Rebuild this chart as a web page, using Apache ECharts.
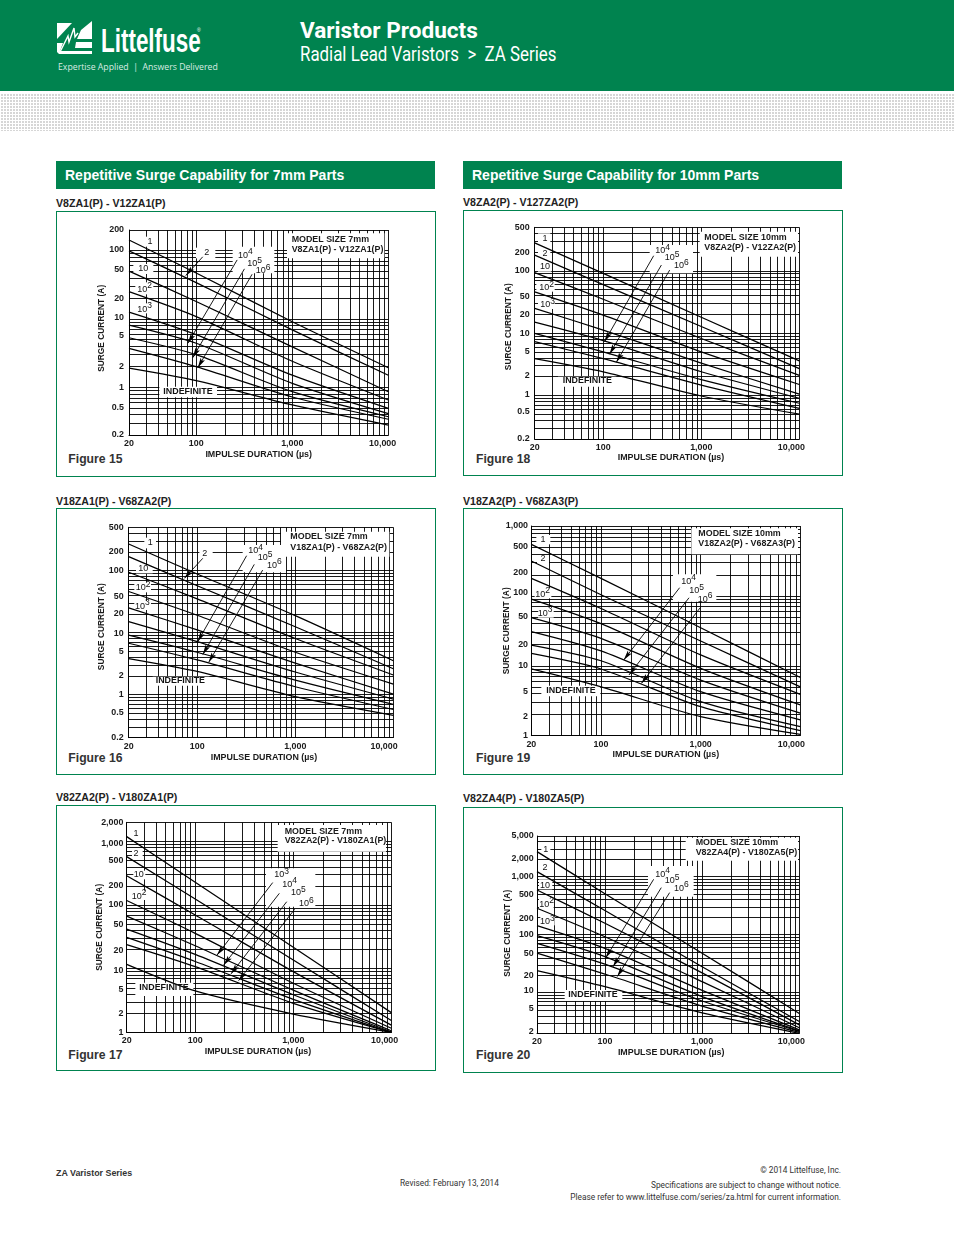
<!DOCTYPE html>
<html><head><meta charset="utf-8"><title>ZA Series Repetitive Surge Capability</title>
<script src="https://cdn.jsdelivr.net/npm/echarts@6/dist/echarts.min.js"></script>
<style>
html,body{margin:0;padding:0;background:#fff;width:954px;height:1235px;overflow:hidden}
body{position:relative;font-family:"Liberation Sans",Arial,sans-serif;color:#222}
.a{position:absolute;white-space:nowrap}
#hdr{left:0;top:0;width:954px;height:91px;background:#00834f}
#dots{left:0;top:93px;width:954px;height:38px;background-color:#d6d6d6;background-image:linear-gradient(to right,#fff 1px,transparent 1px),linear-gradient(to bottom,#fff 1px,transparent 1px);background-size:3px 3px}
.bar{height:28px;width:379px;background:#00834f;color:#fff;font-weight:bold;font-size:14px;line-height:29px;text-indent:9px;top:161px}
.ttl{font-weight:bold;font-size:10.6px;color:#222}
.panel{border:1px solid #00834f;box-sizing:border-box;width:380px}
.figc{font-weight:bold;font-size:12.2px;color:#333}
.foot{font-family:"Roboto";font-size:8.3px;color:#333}
#chart{position:absolute;left:0;top:0;width:954px;height:1235px}
</style></head><body>
<div class="a" id="hdr"></div><div class="a" id="dots"></div>
<svg class="a" style="left:57px;top:21px" width="36" height="34" viewBox="0 0 36 34">
<path fill="#fff" d="M0 2H15L0 18ZM35 0V18H20L24 9ZM0 22H6L3 30H35V33H2L0 31ZM19 21H35V27H18Z"/>
<path fill="none" stroke="#fff" stroke-width="1.4" d="M3 31L11 15L12 21L17 7L18 16L21 12"/></svg>
<div class="a" style="left:101px;top:22px;font:bold 33px 'Liberation Sans';color:#fff;transform-origin:0 0;transform:scaleX(.68)">Littelfuse</div>
<div class="a" style="left:197px;top:27px;font:5px 'Liberation Sans';color:#fff">®</div>
<div class="a" style="left:58px;top:60px;font:9.4px 'Open Sans';color:#d9ece3;transform-origin:0 0;transform:scaleX(.93)">Expertise Applied&nbsp; |&nbsp; Answers Delivered</div>
<div class="a" style="left:300px;top:17px;font:bold 22.6px Roboto;color:#fff">Varistor Products</div>
<div class="a" style="left:300px;top:43px;font:19.4px Roboto;color:#fff;transform-origin:0 0;transform:scaleX(.87)">Radial Lead Varistors&nbsp; &gt;&nbsp; ZA Series</div>
<div class="a bar" style="left:56px">Repetitive Surge Capability for 7mm Parts</div>
<div class="a bar" style="left:463px">Repetitive Surge Capability for 10mm Parts</div>
<div class="a foot" style="left:56px;top:1168px;font:bold 8.9px 'Liberation Sans'">ZA Varistor Series</div>
<div class="a foot" style="left:400px;top:1178px">Revised: February 13, 2014</div>
<div class="a foot" style="right:113px;top:1165px">© 2014 Littelfuse, Inc.</div>
<div class="a foot" style="right:113px;top:1180px">Specifications are subject to change without notice.</div>
<div class="a foot" style="right:113px;top:1192px">Please refer to www.littelfuse.com/series/za.html for current information.</div>
<div id="chart"></div>
<script>
// Impulse duration read-off points (µs), shared by all curves
const durations = [20, 100, 1000, 10000];
const xTickLabels = [20, 100, 1000, 10000];
const curveNames = ['1', '2', '10', '10^2', '10^3', '10^4', '10^5', '10^6', 'INDEFINITE'];

// Surge current (A) per curve at each duration
const fig15Curves = [[143,47,9.1,1.93],[99,34,6.9,1.5],[50,18,3.9,.86],[25,10.8,2.4,.65],[12.6,5.9,1.5,.49],[8.1,4.4,1.14,.41],[5.3,3,.86,.37],[3.7,2,.72,.34],[1.9,1.25,.55,.28]];
const fig18Curves = [[282,91,18,3.6],[179,60,12.8,2.7],[94,35,8.2,2.1],[46,19.5,5,1.5],[25,11.2,3.3,1.05],[15,7.6,2.4,.9],[9.9,5,1.8,.75],[7.3,3.9,1.47,.62],[3.9,2.4,.98,.5]];
const fig16Curves = [[269,88,18.7,3.5],[168,57,12.4,2.6],[94,35,8,2.06],[46,19,4.8,1.47],[25,11,3.2,1.01],[15,7.1,2.3,.84],[9.1,4.8,1.7,.69],[6.7,3.6,1.33,.57],[3.8,2.35,.92,.46]];
const fig19Curves = [[546,178,35,6.8],[315,104,22.6,5],[178,66,14.3,3.9],[90,40,9.2,2.75],[49,24.7,6.25,2.1],[30.8,16.3,4.26,1.68],[19.8,11.8,3.07,1.35],[15,9,2.6,1.18],[9,5,1.87,1.04]];
const fig17Curves = [[1192,228,21.7,2.04],[578,125,13.7,1.53],[290,70,9,1.3],[118,36,5.9,1.16],[67,23,4.6,1.06],[42,16.8,3.9,1.02],[31,13,3.3,1],[24,10.8,2.86,1],[11.7,4.47,1.94,1]];
const fig20Curves = [[2690,508,48,4.4],[1216,260,28,3.2],[588,157,22,2.8],[285,92,15.5,2.5],[143,58,11,2.3],[96,42,8.6,2.2],[71,31,7.2,2.16],[48,21,5.9,2.08],[24,12.7,4.5,2]];

// Surge current axis labels
const fig15YLabels = [200,100,50,20,10,5,2,1,.5,.2];
const fig18YLabels = [500,200,100,50,20,10,5,2,1,.5,.2];
const fig16YLabels = [500,200,100,50,20,10,5,2,1,.5,.2];
const fig19YLabels = [1000,500,200,100,50,20,10,5,2,1];
const fig17YLabels = [2000,1000,500,200,100,50,20,10,5,2,1];
const fig20YLabels = [5000,2000,1000,500,200,100,50,20,10,5,2];

// Leader arrows: [from duration, from current, to duration, to current]
const fig15Arrows = [[117,81,78,43],[267,73,82,4.4],[318,54,92,2.7],[382,45,104,1.93]];
const fig18Arrows = [[327,175,103,7.3],[392,124,116,4.6],[476,103,136,3.4]];
const fig16Arrows = [[114,158,74,75],[319,174,101,7.1],[382,126,114,4.4],[465,102,131,3.3]];
const fig19Arrows = [[615,131,169,12.1],[764,94,191,7.4],[992,68,254,5.6]];
const fig17Arrows = [[617,226,167,16.4],[721,153,195,11.4],[857,113,232,8.3],[1033,86,277,6.5]];
const fig20Arrows = [[317,898,102,40],[380,646,121,28],[463,530,134,19]];

const ink = '#000';
const txt = '#1a1a1a';
const fontFam = '"Liberation Sans",Arial,sans-serif';
// slim arrowhead whose tip sits at the centre of its 20×20 bounding box
const arrowHead = 'path://M0 0L2.5 10L0 8L-2.5 10ZM-10 -10L-10 -10M10 10L10 10';

const figures = [
 {fig:'Figure 15', title:'V8ZA1(P) - V12ZA1(P)', ox:56, oy:195, plot:[219,105,997,720], ymin:.2, ymax:200, curves:fig15Curves, yl:fig15YLabels, arrows:fig15Arrows,
  yShift:{100:-.6,50:-1.3,10:-1.3,5:-3.7}, yMargin:5, xLast:11.4, xNudge:0, titleZ:[0,28], panel:[48,843], capt:[37,792], xTitle:[778], yTitle:[133,400],
  model:[707,133,163,'MODEL SIZE 7mm','V8ZA1(P) - V12ZA1(P)'],
  notes:[['1',282,140],['2',452,172],['10',262,222],['10^2',265,280],['10^3',265,340],['10^4',567,178],['10^5',595,203],['10^6',620,225],['INDEFINITE',396,590]],
  masks:[[270,125,295,155],[420,158,478,190],[232,207,292,237],[238,262,292,298],[238,325,292,355],[530,155,655,235],[310,575,483,607],[693,115,985,190]]},
 {fig:'Figure 18', title:'V8ZA2(P) - V127ZA2(P)', ox:463, oy:195, plot:[215,97,1009,732], ymin:.2, ymax:500, curves:fig18Curves, yl:fig18YLabels, arrows:fig18Arrows,
  yShift:{50:7,1:-1.3,2:-1,.5:-2.3}, yMargin:5, xLast:16, xNudge:4, titleZ:[0,25], panel:[46,841], capt:[39,792], xTitle:[786], yTitle:[133,395],
  model:[724,128,158,'MODEL SIZE 10mm','V8ZA2(P) - V12ZA2(P)'],
  notes:[['1',246,132],['2',246,175],['10',246,216],['10^2',250,276],['10^3',253,326],['10^4',598,165],['10^5',626,186],['10^6',654,210],['INDEFINITE',373,558]],
  masks:[[225,115,262,150],[225,160,262,185],[225,205,265,230],[220,258,275,290],[225,310,275,342],[560,150,690,235],[285,545,460,575],[710,110,1005,185]]},
 {fig:'Figure 16', title:'V18ZA1(P) - V68ZA2(P)', ox:56, oy:495, plot:[218,97,1012,728], ymin:.2, ymax:500, curves:fig16Curves, yl:fig16YLabels, arrows:fig16Arrows,
  yShift:{50:7.7,10:1.5}, yMargin:5, xLast:18.6, xNudge:3, titleZ:[0,22], panel:[40,837], capt:[37,788], xTitle:[786], yTitle:[133,395],
  model:[703,126,158,'MODEL SIZE 7mm','V18ZA1(P) - V68ZA2(P)'],
  notes:[['1',283,143],['2',446,177],['10',262,222],['10^2',260,276],['10^3',258,331],['10^4',598,165],['10^5',626,186],['10^6',654,208],['INDEFINITE',373,558]],
  masks:[[265,128,300,160],[430,160,470,195],[240,210,290,235],[235,262,285,292],[235,318,285,345],[560,150,690,232],[290,545,460,572],[675,110,1000,185]]},
 {fig:'Figure 19', title:'V18ZA2(P) - V68ZA3(P)', ox:463, oy:495, plot:[205,93,1012,722], ymin:1, ymax:1000, curves:fig19Curves, yl:fig19YLabels, arrows:fig19Arrows,
  yShift:{100:-3.5,200:-2,5:4.5,2:2.3}, yMargin:3.3, xLast:18, xNudge:0, titleZ:[0,22], panel:[40,837], capt:[39,788], xTitle:[778], yTitle:[128,408],
  model:[706,116,147,'MODEL SIZE 10mm','V18ZA2(P) - V68ZA3(P)'],
  notes:[['1',240,133],['2',240,192],['10^2',238,295],['10^3',245,352],['10^4',676,256],['10^5',700,284],['10^6',725,310],['INDEFINITE',324,588]],
  masks:[[220,120,262,148],[222,180,258,205],[215,280,265,310],[225,338,272,368],[630,238,760,320],[235,572,412,604],[685,100,1005,178]]},
 {fig:'Figure 17', title:'V82ZA2(P) - V180ZA1(P)', ox:56, oy:790, plot:[212,97,1006,727], ymin:1, ymax:2000, curves:fig17Curves, yl:fig17YLabels, arrows:fig17Arrows,
  yShift:{1000:1.7,100:-1,20:1,10:2.3,5:1.3,2:.7}, yMargin:3.3, xLast:13.4, xNudge:-1, titleZ:[0,25], panel:[46,841], capt:[37,795], xTitle:[783], yTitle:[128,412],
  model:[686,125,153,'MODEL SIZE 7mm','V82ZA2(P) - V180ZA1(P)'],
  notes:[['1',240,132],['2',240,192],['10',248,255],['10^2',248,316],['10^3',676,252],['10^4',700,280],['10^5',726,306],['10^6',750,338],['INDEFINITE',324,593]],
  masks:[[228,118,255,150],[228,180,260,205],[232,242,268,268],[225,302,270,330],[630,235,778,350],[238,578,412,618],[665,105,990,185]]},
 {fig:'Figure 20', title:'V82ZA4(P) - V180ZA5(P)', ox:463, oy:790, plot:[222,138,1009,730], ymin:2, ymax:5000, curves:fig20Curves, yl:fig20YLabels, arrows:fig20Arrows,
  yShift:{2000:-.7,1000:-.5,200:1,50:1,10:-1.7,5:-2,2:-1.7}, yMargin:3.3, xLast:16, xNudge:3, titleZ:[0,28], panel:[52,847], capt:[39,795], xTitle:[786], yTitle:[130,430],
  model:[698,158,187,'MODEL SIZE 10mm','V82ZA4(P) - V180ZA5(P)'],
  notes:[['1',248,180],['2',246,234],['10',246,286],['10^2',250,340],['10^3',252,393],['10^4',598,250],['10^5',626,270],['10^6',654,292],['INDEFINITE',390,614]],
  masks:[[235,168,262,192],[235,222,260,248],[228,268,268,298],[228,326,272,354],[232,380,275,406],[555,228,692,320],[305,600,478,633],[668,143,1005,212]]}
];

// gridlines at 1..9 × each power of ten inside the axis range
function logGrid(min, max){
  const out=[]; for(let p=-2;p<=5;p++){ for(let m=1;m<10;m++){ const v=Number((m*Math.pow(10,p)).toPrecision(3)); if(v>=min&&v<=max) out.push(v);} } return out;
}
const clean = v => Number(Number(v).toPrecision(5));
const fmt = v => clean(v).toLocaleString('en-US',{maximumFractionDigits:2});

const grid=[],xAxis=[],yAxis=[],series=[],graphic=[];
figures.forEach((f,i)=>{
  const [zl,zt,zr,zb]=f.plot;
  const L=f.ox+zl/3,T=f.oy+zt/3,W=(zr-zl)/3,H=(zb-zt)/3;
  const px=z=>f.ox+z/3, py=z=>f.oy+z/3;
  grid.push({left:L,top:T,width:W,height:H,containLabel:false});
  const yRich={}; f.yl.forEach((v,k)=>{const d=f.yShift[v]||0; yRich['r'+k]={fontFamily:fontFam,fontSize:8.9,fontWeight:'bold',color:txt,padding:d>0?[2*d,0,0,0]:[0,0,-2*d,0]};});
  const xRich={n:{fontFamily:fontFam,fontSize:8.9,fontWeight:'bold',color:txt},e:{fontFamily:fontFam,fontSize:8.9,fontWeight:'bold',color:txt,padding:[0,f.xLast,0,0]}};
  xAxis.push({type:'log',logBase:10,gridIndex:i,min:20,max:10000,
    name:'IMPULSE DURATION (µs)',nameLocation:'middle',nameMoveOverlap:false,nameGap:(f.oy+f.xTitle[0]/3)-(T+H)-4,
    nameTextStyle:{fontFamily:fontFam,fontSize:8.9,fontWeight:'bold',color:txt,padding:f.xNudge>0?[0,0,0,2*f.xNudge]:[0,-2*f.xNudge,0,0]},
    axisLine:{show:true,lineStyle:{color:ink,width:.9}},
    axisTick:{show:false,customValues:logGrid(20,10000)},
    axisLabel:{show:true,margin:4,customValues:xTickLabels,hideOverlap:false,rich:xRich,
      formatter:v=>{const c=clean(v);return (c>=10000?'{e|':'{n|')+fmt(c)+'}';}},
    splitLine:{show:true,showMinLine:true,showMaxLine:true,lineStyle:{color:ink,width:.9}},minorSplitLine:{show:false}});
  yAxis.push({type:'log',logBase:10,gridIndex:i,min:f.ymin,max:f.ymax,
    name:'SURGE CURRENT (A)',nameLocation:'middle',nameMoveOverlap:false,nameGap:L-px(f.yTitle[0])-5,
    nameTextStyle:{fontFamily:fontFam,fontSize:8.4,fontWeight:'bold',color:txt,padding:[0,0,0,Math.max(0,2*((T+H/2)-py(f.yTitle[1])))]},
    axisLine:{show:true,lineStyle:{color:ink,width:.9}},
    axisTick:{show:false,customValues:logGrid(f.ymin,f.ymax)},
    axisLabel:{show:true,margin:f.yMargin,customValues:f.yl,hideOverlap:false,rich:yRich,
      formatter:v=>{const c=clean(v);const k=f.yl.findIndex(y=>Math.abs(y-c)<1e-6*Math.max(1,y));return '{r'+k+'|'+fmt(c)+'}';}},
    splitLine:{show:true,showMinLine:true,showMaxLine:true,lineStyle:{color:ink,width:.9}},minorSplitLine:{show:false}});
  f.curves.forEach((vals,c)=>{
    const s={type:'line',name:f.fig+' '+curveNames[c],xAxisIndex:i,yAxisIndex:i,symbol:'none',smooth:.25,silent:true,clip:true,z:3,
      lineStyle:{color:ink,width:1.25},data:durations.map((d,j)=>[d,vals[j]])};
    if(c===0){
      s.markLine={silent:true,animation:false,z:6,label:{show:false},symbol:['none',arrowHead],symbolSize:[1,20],
        lineStyle:{color:ink,width:.9,type:'solid'},
        data:f.arrows.map(a=>[{coord:[a[0],a[1]],symbol:'none'},{coord:[a[2],a[3]],symbol:arrowHead,symbolSize:20,itemStyle:{color:ink}}])};
    }
    series.push(s);
  });
  // white knock-outs behind the curve labels
  f.masks.forEach(m=>graphic.push({type:'rect',z:1,silent:true,shape:{x:px(m[0]),y:py(m[1]),width:(m[2]-m[0])/3,height:(m[3]-m[1])/3},style:{fill:'#fff'}}));
  // curve labels
  f.notes.forEach(n=>{
    const sup=n[0].split('^');
    if(sup.length>1){
      graphic.push({type:'text',z:20,silent:true,x:px(n[1])-7,y:py(n[2])+1,style:{text:sup[0],fontFamily:fontFam,fontSize:9,fill:'#111',align:'left',verticalAlign:'middle'}});
      graphic.push({type:'text',z:20,silent:true,x:px(n[1])+3,y:py(n[2])-2.5,style:{text:sup[1],fontFamily:fontFam,fontSize:8.5,fill:'#111',align:'left',verticalAlign:'middle'}});
    } else {
      const ind=n[0]==='INDEFINITE';
      graphic.push({type:'text',z:20,silent:true,x:px(n[1]),y:py(n[2]),style:{text:n[0],fontFamily:fontFam,fontSize:ind?8.9:9,fontWeight:ind?'bold':'normal',fill:'#111',align:'center',verticalAlign:'middle'}});
    }
  });
  const mo=f.model;
  [mo[3],mo[4]].forEach((t,k)=>graphic.push({type:'text',z:20,silent:true,x:px(mo[0]),y:py(mo[1+k]),style:{text:t,fontFamily:fontFam,fontSize:8.9,fontWeight:'bold',fill:txt,align:'left',verticalAlign:'middle'}}));
  // panel furniture
  const hold=document.body;
  const t=document.createElement('div');t.className='a ttl';t.textContent=f.title;t.style.cssText='left:'+f.ox+'px;top:'+(f.oy+f.titleZ[1]/3-7)+'px';hold.insertBefore(t,document.getElementById('chart'));
  const p=document.createElement('div');p.className='a panel';p.style.cssText='left:'+f.ox+'px;top:'+(f.oy+f.panel[0]/3)+'px;height:'+((f.panel[1]-f.panel[0])/3+1)+'px';hold.insertBefore(p,document.getElementById('chart'));
  const c=document.createElement('div');c.className='a figc';c.textContent=f.fig;c.style.cssText='left:'+(f.ox+f.capt[0]/3)+'px;top:'+(f.oy+f.capt[1]/3-7)+'px';hold.insertBefore(c,document.getElementById('chart'));
});
const chart=echarts.init(document.getElementById('chart'),null,{renderer:'canvas'});
chart.setOption({animation:false,backgroundColor:'transparent',tooltip:{show:false},grid,xAxis,yAxis,series,graphic});
</script>
</body></html>
